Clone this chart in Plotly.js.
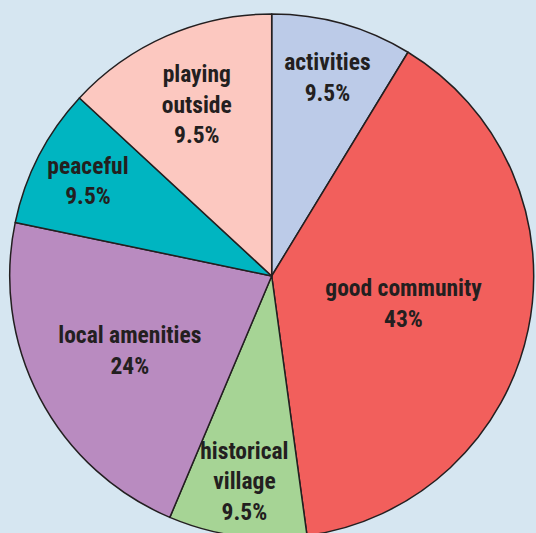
<!DOCTYPE html>
<html>
<head>
<meta charset="utf-8">
<script src="https://cdn.plot.ly/plotly-3.0.1.min.js"></script>
<style>
html,body{margin:0;padding:0;overflow:hidden;background:#d6e6f1;}
#chart{width:536px;height:540px;}
</style>
</head>
<body>
<div id="chart"></div>
<script>
const categories = ['activities','good community','historical village','local amenities','peaceful','playing outside'];
const sliceValues = [8.7, 39.1, 8.5, 21.9, 8.6, 13.1];
// Percentages as printed on the chart
const printedPct = ['9.5%','43%','9.5%','24%','9.5%','9.5%'];
const displayLabels = ['activities','good community','historical<br>village','local amenities','peaceful','playing<br>outside'];
const sliceColors = ['#bccbe8','#f25f5c','#a6d495','#b98bc0','#00b5c1','#fcc8c0'];

const trace = {
  type: 'pie',
  labels: categories,
  values: sliceValues,
  text: categories.map((c,i)=>displayLabels[i] + '<br>' + printedPct[i]),
  texttemplate: '%{text}',
  textinfo: 'text',
  textposition: 'inside',
  insidetextorientation: 'horizontal',
  sort: false,
  direction: 'clockwise',
  rotation: 0,
  hole: 0,
  marker: {colors: sliceColors, line: {color: '#231f20', width: 1.5}},
  textfont: {family: '"Roboto Condensed", "Roboto", sans-serif', size: 23.5, color: '#231f20', weight: 'bold'},
  domain: {x: [0.0181, 0.9957], y: [0.0037, 0.9741]},
  hoverinfo: 'label+text'
};

const layout = {
  width: 536,
  height: 540,
  margin: {l: 0, r: 0, t: 0, b: 0},
  paper_bgcolor: '#d6e6f1',
  plot_bgcolor: '#d6e6f1',
  showlegend: false,
  uniformtext: {mode: 'show', minsize: 23.5}
};

Plotly.newPlot('chart', [trace], layout, {displayModeBar: false, staticPlot: true});
</script>
</body>
</html>
